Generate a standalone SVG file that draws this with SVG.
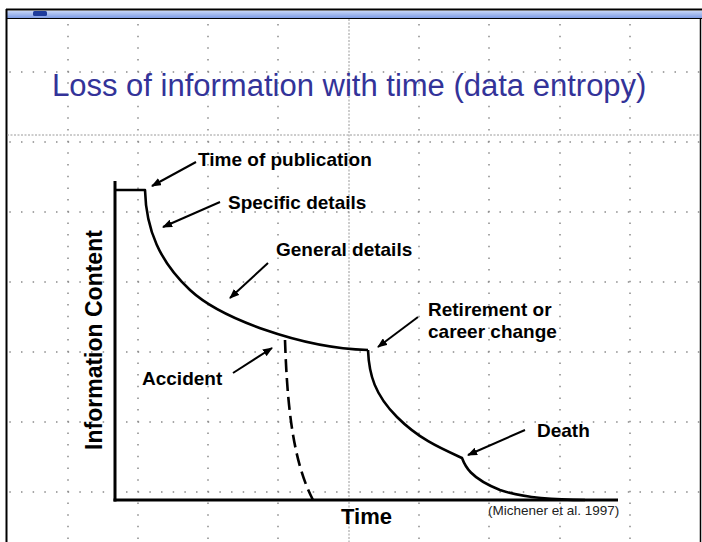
<svg xmlns="http://www.w3.org/2000/svg" width="702" height="542" viewBox="0 0 702 542">
<defs>
<linearGradient id="bar" x1="0" y1="0" x2="0" y2="1">
<stop offset="0" stop-color="#c4d4f6"/>
<stop offset="1" stop-color="#7e9ce4"/>
</linearGradient>
<marker id="ah" markerUnits="userSpaceOnUse" viewBox="0 0 10 8" markerWidth="10" markerHeight="8" refX="9" refY="4" orient="auto">
<path d="M0,0 L10,4 L0,8 z" fill="#000"/>
</marker>
</defs>
<style>
.grid{stroke:#8a8a8a;stroke-width:1.5;stroke-dasharray:1.5 10.17;fill:none}
.major{stroke:#9a9a9a;stroke-width:1;stroke-dasharray:2 1.5;fill:none}
.axis{stroke:#000;stroke-width:3;fill:none}
.curve{stroke:#000;stroke-width:2.6;fill:none;stroke-linejoin:round}
.arrow{stroke:#000;stroke-width:2;fill:none;marker-end:url(#ah)}
.lbl{font-family:"Liberation Sans",Arial,sans-serif;font-weight:bold;font-size:19px;fill:#000}
</style>
<rect x="0" y="0" width="702" height="542" fill="#fff"/>
<g id="frame">
<rect x="7" y="11" width="695" height="7" fill="url(#bar)"/>
<rect x="33" y="11" width="14" height="5" rx="1.5" fill="#1e3c9c"/>
<line x1="6" y1="9.5" x2="702" y2="9.5" stroke="#000" stroke-width="2"/>
<line x1="7" y1="18.5" x2="702" y2="18.5" stroke="#000" stroke-width="1"/>
<line x1="6.5" y1="9" x2="6.5" y2="542" stroke="#000" stroke-width="2"/>
<line x1="700.5" y1="18" x2="700.5" y2="542" stroke="#000" stroke-width="1.5"/>
</g>
<g id="grid">
<path class="grid" d="M68,24V542 M138,24V542 M208,24V542 M278,24V542 M419,24V542 M489,24V542 M560,24V542 M630,24V542"/>
<path class="grid" d="M9.3,72H700 M9.3,142H700 M9.3,212H700 M9.3,282H700 M9.3,352H700 M9.3,422H700 M9.3,492H700"/>
<line class="major" x1="349" y1="19" x2="349" y2="542"/>
<line class="major" x1="7" y1="135" x2="700" y2="135"/>
</g>
<g id="title">
<text x="52" y="96" font-family="'Liberation Sans',Arial,sans-serif" font-size="31" fill="#333399">Loss of information with time (data entropy)</text>
</g>
<g id="axes">
<line class="axis" x1="115" y1="181" x2="115" y2="501.5"/>
<line class="axis" x1="113.5" y1="500" x2="618" y2="500"/>
<text x="341" y="524" font-family="'Liberation Sans',Arial,sans-serif" font-weight="bold" font-size="22">Time</text>
<text transform="translate(101.5,340) rotate(-90)" text-anchor="middle" font-family="'Liberation Sans',Arial,sans-serif" font-weight="bold" font-size="23">Information Content</text>
</g>
<g id="curves">
<path class="curve" d="M115,190 H145 C146,230 160,262 190,290 S300,348 368,350"/>
<path class="curve" d="M368,350 C369,375 375,395 397,417 S440,448 462,458 C465,466 470,478 500,490 C520,497 545,500 585,500"/>
<path class="curve" d="M285,340 C287,400 292,460 313,500" stroke-dasharray="13 6"/>
</g>
<g id="connectors">
<line class="arrow" x1="196" y1="162" x2="152" y2="186"/>
<line class="arrow" x1="220" y1="202" x2="163" y2="227"/>
<line class="arrow" x1="268" y1="263" x2="230" y2="298"/>
<line class="arrow" x1="233" y1="373" x2="272" y2="348"/>
<line class="arrow" x1="418" y1="317" x2="378" y2="347"/>
<line class="arrow" x1="525" y1="430" x2="468" y2="455"/>
</g>
<g id="labels">
<text class="lbl" x="198" y="166">Time of publication</text>
<text class="lbl" x="228" y="209">Specific details</text>
<text class="lbl" x="276" y="256">General details</text>
<text class="lbl" x="428" y="316">Retirement or</text>
<text class="lbl" x="428" y="338">career change</text>
<text class="lbl" x="142" y="385">Accident</text>
<text class="lbl" x="537" y="437">Death</text>
<text x="488" y="515" font-family="'Liberation Sans',Arial,sans-serif" font-size="13.5" fill="#222">(Michener et al. 1997)</text>
</g>
</svg>
